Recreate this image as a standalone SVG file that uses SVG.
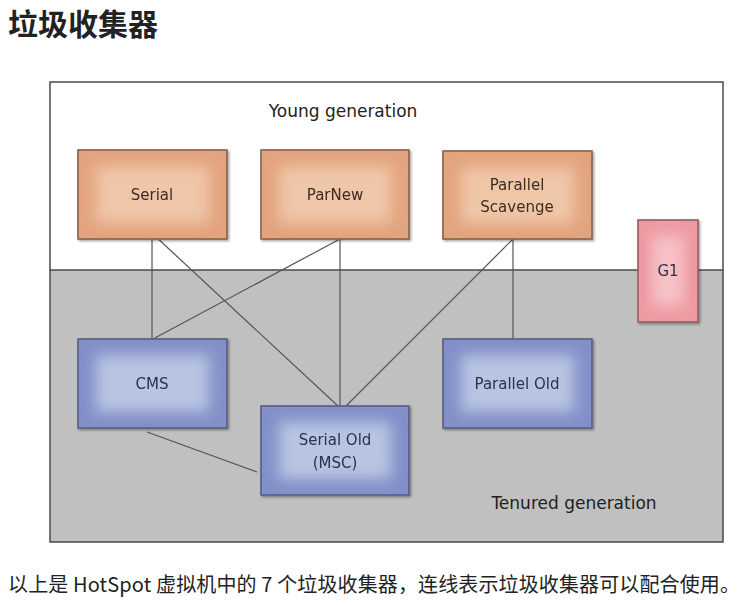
<svg xmlns="http://www.w3.org/2000/svg" width="750" height="605" viewBox="0 0 750 605">
<defs>
<filter id="blur" x="-20%" y="-20%" width="140%" height="140%"><feGaussianBlur stdDeviation="7"/></filter>
<filter id="shadow" x="-10%" y="-10%" width="130%" height="130%"><feDropShadow dx="1.5" dy="1.5" stdDeviation="1.2" flood-color="#000" flood-opacity="0.35"/></filter>
<clipPath id="cSerial"><rect x="78" y="150" width="149" height="89"/></clipPath>
<clipPath id="cParNew"><rect x="261" y="150" width="148" height="89"/></clipPath>
<clipPath id="cPS"><rect x="443" y="151" width="149" height="88"/></clipPath>
<clipPath id="cG1"><rect x="638" y="220" width="60" height="102"/></clipPath>
<clipPath id="cCMS"><rect x="78" y="339" width="149" height="89"/></clipPath>
<clipPath id="cSO"><rect x="261" y="406" width="148" height="89"/></clipPath>
<clipPath id="cPO"><rect x="443" y="339" width="149" height="89"/></clipPath>
</defs>
<style>
.frame{fill:none;stroke:#4a4a4a;stroke-width:1.5}
.ob{fill:#e2a47e;stroke:#8a6450;stroke-width:1.2}
.oi{fill:#f0c6a8}
.bb{fill:#8190c8;stroke:#5a6288;stroke-width:1.2}
.bi{fill:#b8c4e2}
.pb{fill:#ee9aa2;stroke:#9a6068;stroke-width:1.2}
.pi{fill:#f6c2c6}
.lbl{font-family:"Comic Sans MS","DejaVu Sans",sans-serif;font-size:15px;text-anchor:middle}
.lo{fill:#3e2a20}
.lb{fill:#2a3050}
.gen{font-family:"Comic Sans MS","DejaVu Sans",sans-serif;font-size:17px;fill:#222}
.con{stroke:#555;stroke-width:1.2;fill:none}
</style>
<rect width="750" height="605" fill="#fff"/>
<text x="8" y="35" font-family="'Noto Sans CJK SC',sans-serif" font-weight="bold" font-size="30" fill="#222">垃圾收集器</text>
<g id="frame">
<rect x="50" y="82" width="673" height="188" fill="#fff"/>
<rect x="50" y="270" width="673" height="272" fill="#c0c0c0"/>
<rect x="50" y="82" width="673" height="460" class="frame"/>
<line x1="50" y1="270" x2="723" y2="270" stroke="#4a4a4a" stroke-width="1.5"/>
<text x="343" y="117" class="gen" text-anchor="middle">Young generation</text>
<text x="574" y="509" class="gen" text-anchor="middle">Tenured generation</text>
</g>
<g id="connectors">
<line class="con" x1="152" y1="239" x2="152" y2="339"/>
<line class="con" x1="155" y1="236" x2="338" y2="406"/>
<line class="con" x1="340" y1="239" x2="153" y2="339"/>
<line class="con" x1="340" y1="239" x2="340" y2="406"/>
<line class="con" x1="513" y1="239" x2="346" y2="406"/>
<line class="con" x1="513" y1="239" x2="513" y2="339"/>
<line class="con" x1="147" y1="432" x2="257" y2="472"/>
</g>
<g id="serial" filter="url(#shadow)">
<rect class="ob" x="78" y="150" width="149" height="89"/>
<g clip-path="url(#cSerial)"><rect class="oi" x="96" y="166" width="113" height="57" filter="url(#blur)"/></g>
<rect x="78" y="150" width="149" height="89" fill="none" stroke="#8a6450" stroke-width="1.2"/>
<text class="lbl lo" x="152" y="200">Serial</text>
</g>
<g id="parnew" filter="url(#shadow)">
<rect class="ob" x="261" y="150" width="148" height="89"/>
<g clip-path="url(#cParNew)"><rect class="oi" x="279" y="166" width="112" height="57" filter="url(#blur)"/></g>
<rect x="261" y="150" width="148" height="89" fill="none" stroke="#8a6450" stroke-width="1.2"/>
<text class="lbl lo" x="335" y="200">ParNew</text>
</g>
<g id="parallel-scavenge" filter="url(#shadow)">
<rect class="ob" x="443" y="151" width="149" height="88"/>
<g clip-path="url(#cPS)"><rect class="oi" x="461" y="167" width="113" height="56" filter="url(#blur)"/></g>
<rect x="443" y="151" width="149" height="88" fill="none" stroke="#8a6450" stroke-width="1.2"/>
<text class="lbl lo" x="517" y="190">Parallel</text>
<text class="lbl lo" x="517" y="212">Scavenge</text>
</g>
<g id="g1" filter="url(#shadow)">
<rect class="pb" x="638" y="220" width="60" height="102"/>
<g clip-path="url(#cG1)"><rect class="pi" x="652" y="236" width="32" height="70" filter="url(#blur)"/></g>
<rect x="638" y="220" width="60" height="102" fill="none" stroke="#9a6068" stroke-width="1.2"/>
<text class="lbl lb" x="668" y="276" fill="#3a2a30">G1</text>
</g>
<g id="cms" filter="url(#shadow)">
<rect class="bb" x="78" y="339" width="149" height="89"/>
<g clip-path="url(#cCMS)"><rect class="bi" x="96" y="355" width="113" height="57" filter="url(#blur)"/></g>
<rect x="78" y="339" width="149" height="89" fill="none" stroke="#5a6288" stroke-width="1.2"/>
<text class="lbl lb" x="152" y="389">CMS</text>
</g>
<g id="serial-old" filter="url(#shadow)">
<rect class="bb" x="261" y="406" width="148" height="89"/>
<g clip-path="url(#cSO)"><rect class="bi" x="279" y="422" width="112" height="57" filter="url(#blur)"/></g>
<rect x="261" y="406" width="148" height="89" fill="none" stroke="#5a6288" stroke-width="1.2"/>
<text class="lbl lb" x="335" y="445">Serial Old</text>
<text class="lbl lb" x="335" y="468">(MSC)</text>
</g>
<g id="parallel-old" filter="url(#shadow)">
<rect class="bb" x="443" y="339" width="149" height="89"/>
<g clip-path="url(#cPO)"><rect class="bi" x="461" y="355" width="113" height="57" filter="url(#blur)"/></g>
<rect x="443" y="339" width="149" height="89" fill="none" stroke="#5a6288" stroke-width="1.2"/>
<text class="lbl lb" x="517" y="389">Parallel Old</text>
</g>
<text x="8" y="592" font-family="'Noto Sans CJK SC',sans-serif" font-size="20" fill="#222" textLength="732" lengthAdjust="spacing">以上是 HotSpot 虚拟机中的 7 个垃圾收集器，连线表示垃圾收集器可以配合使用。</text>
</svg>
